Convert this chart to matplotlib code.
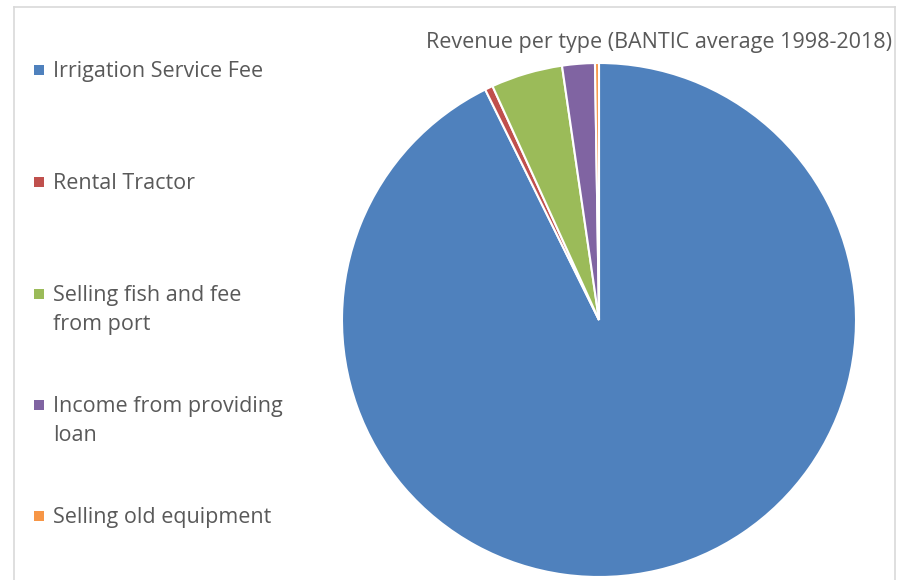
import matplotlib
matplotlib.use("Agg")
import matplotlib.pyplot as plt
from matplotlib.patches import Rectangle

# Revenue shares (%), BANTIC average 1998-2018
categories = [
    "Irrigation Service Fee",
    "Rental Tractor",
    "Selling fish and fee\nfrom port",
    "Income from providing\nloan",
    "Selling old equipment",
]
shares = [92.7, 0.5, 4.5, 2.05, 0.25]
colors = ["#4F81BD", "#C0504D", "#9BBB59", "#8064A2", "#F79646"]
title = "Revenue per type (BANTIC average 1998-2018)"

W, H = 898, 580
fig = plt.figure(figsize=(W / 100, H / 100), dpi=100)
fig.patch.set_facecolor("white")

FONT = ["Open Sans", "DejaVu Sans"]
TXT = "#595959"
FS = 15.5
LINE_PX = 29  # distance between wrapped legend lines

# chart frame (open at the bottom)
frame = dict(color="#D9D9D9", lw=1.2, transform=fig.transFigure)
fig.add_artist(plt.Line2D([14 / W, 14 / W], [0, 1 - 7 / H], **frame))
fig.add_artist(plt.Line2D([14 / W, 895 / W], [1 - 7 / H, 1 - 7 / H], **frame))
fig.add_artist(plt.Line2D([895 / W, 895 / W], [0, 1 - 7 / H], **frame))

# pie axes: centre (599, 320) px, radius 257 px
cx, cy, r = 599, 320, 257
ax = fig.add_axes([(cx - r) / W, 1 - (cy + r) / H, 2 * r / W, 2 * r / H])
ax.pie(shares, colors=colors, startangle=90, counterclock=False,
       wedgeprops=dict(edgecolor="white", linewidth=1.5))
ax.set_xlim(-1, 1)
ax.set_ylim(-1, 1)
ax.set_aspect("equal")
ax.axis("off")

fig.text(892 / W, 1 - 48 / H, title, ha="right", va="baseline",
         fontsize=FS, color=TXT, family=FONT)

# legend entries: square key next to the first line of each label
ys = [70, 182, 294, 405, 516]
for lab, col, y in zip(categories, colors, ys):
    fig.add_artist(Rectangle((34 / W, 1 - (y + 5) / H), 10 / W, 10 / H,
                             transform=fig.transFigure, facecolor=col,
                             edgecolor="none"))
    for k, line in enumerate(lab.split("\n")):
        fig.text(53 / W, 1 - (y + 7 + k * LINE_PX) / H, line, ha="left",
                 va="baseline", fontsize=FS, color=TXT, family=FONT)

fig.savefig("out.png", dpi=100, facecolor="white")
